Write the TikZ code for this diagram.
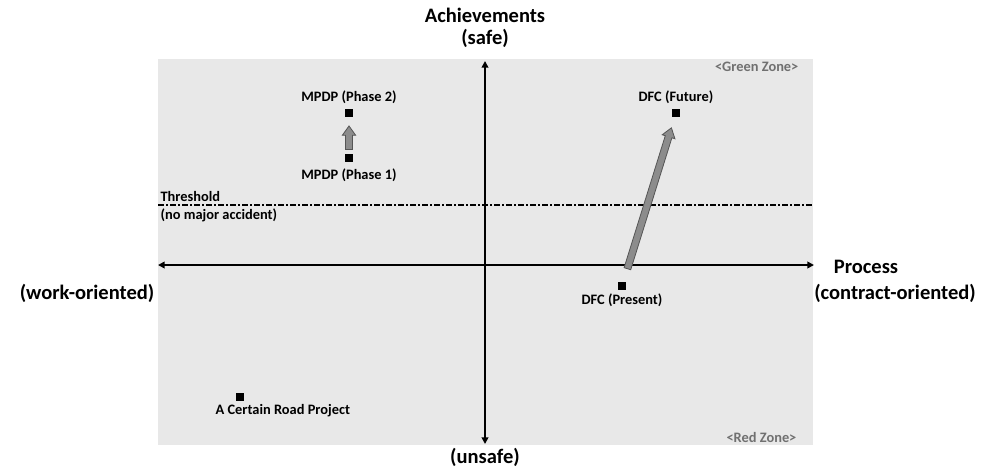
\documentclass[tikz,border=0pt]{standalone}
\usepackage{fontspec}
\setmainfont{Carlito}
\usepackage{tikz}
\usetikzlibrary{arrows.meta, positioning, calc}
\definecolor{panelgray}{HTML}{E8E8E8}
\definecolor{zonegray}{HTML}{707070}
\definecolor{arrowfill}{HTML}{8C8C8C}
\definecolor{arrowedge}{HTML}{555555}
\tikzstyle{axisline} = [line width=1.4pt, {Triangle[length=5pt,width=5pt]}-{Triangle[length=5pt,width=5pt]}]
\tikzstyle{thresh} = [line width=1.1pt, dash pattern=on 4.5pt off 1.5pt on 1.5pt off 1.5pt]
\tikzstyle{point} = [rectangle, fill=black, minimum size=5.8pt, inner sep=0pt]
\tikzstyle{tag} = [font=\bfseries\fontsize{10.8}{12}\selectfont, inner sep=1pt]
\tikzstyle{zonelabel} = [tag, text=zonegray]
\tikzstyle{axislabel} = [font=\bfseries\fontsize{15.4}{17}\selectfont, align=center, inner sep=1pt]
\tikzstyle{movearrow} = [fill=arrowfill, draw=arrowedge, line width=0.6pt, line join=miter]
% gray block arrow from #1 (tail) to #2 (tip)
\newcommand{\blockarrow}[2]{%
  \coordinate (ba-h) at ($(#2)!7pt!(#1)$);
  \draw[movearrow] ($(#1)!2.6pt!90:(#2)$) -- ($(ba-h)!2.6pt!90:(#2)$)
    -- ($(ba-h)!5pt!90:(#2)$) -- (#2) -- ($(ba-h)!5pt!-90:(#2)$)
    -- ($(ba-h)!2.6pt!-90:(#2)$) -- ($(#1)!2.6pt!-90:(#2)$) -- cycle;
}

\begin{document}
\begin{tikzpicture}[x=0.75pt, y=-0.75pt]
    \useasboundingbox (0,0) rectangle (998,469);
    \fill[panelgray] (158,59) rectangle (813,445);

    % axes
    \coordinate (ytop) at (485,61);
    \coordinate (ybot) at (485,444);
    \coordinate (xleft) at (158,265);
    \coordinate (xright) at (814,265);
    \draw[axisline] (ybot) -- (ytop);
    \draw[axisline] (xleft) -- (xright);

    % threshold
    \coordinate (thl) at (158,205);
    \coordinate (thr) at (813,205);
    \draw[thresh] (thl) -- (thr);
    \node[tag, anchor=west] (thtext) at (159,196) {Threshold};
    \node[tag, anchor=west] (thnote) at (159,215) {(no major accident)};

    % projects
    \node[point] (p1) at (349,158) {};
    \node[point] (p2) at (349,113) {};
    \node[point] (dfcnow) at (622,286) {};
    \node[point] (dfcfut) at (676,113) {};
    \node[point] (road) at (240,397) {};
    \node[tag, above=2.5pt of p2] (p2lab) {MPDP (Phase 2)};
    \node[tag, below=3.5pt of p1] (p1lab) {MPDP (Phase 1)};
    \node[tag, above=2.5pt of dfcfut] (futlab) {DFC (Future)};
    \node[tag, below=1.2pt of dfcnow] (nowlab) {DFC (Present)};
    \node[tag, anchor=west] (roadlab) at (214,411) {A Certain Road Project};

    % moves
    \path (p1) -- (p2) coordinate[pos=0.12] (m1) coordinate[pos=0.76] (m2);
    \blockarrow{m1}{m2}
    \path (dfcnow) -- (dfcfut) coordinate[pos=0.08] (d1) coordinate[pos=0.935] (d2);
    \blockarrow{d1}{d2}

    % zones
    \node[zonelabel, anchor=east] (green) at (800,67) {<Green Zone>};
    \node[zonelabel, anchor=east] (red) at (798,437) {<Red Zone>};

    % axis labels
    \node[axislabel] (ach) at (485,28) {Achievements\\(safe)};
    \node[axislabel] (unsafe) at (485,457) {(unsafe)};
    \node[axislabel] (proc) at (866,267) {Process};
    \node[axislabel] (contract) at (895,293) {(contract-oriented)};
    \node[axislabel] (work) at (87,293) {(work-oriented)};
  \end{tikzpicture}
\end{document}
